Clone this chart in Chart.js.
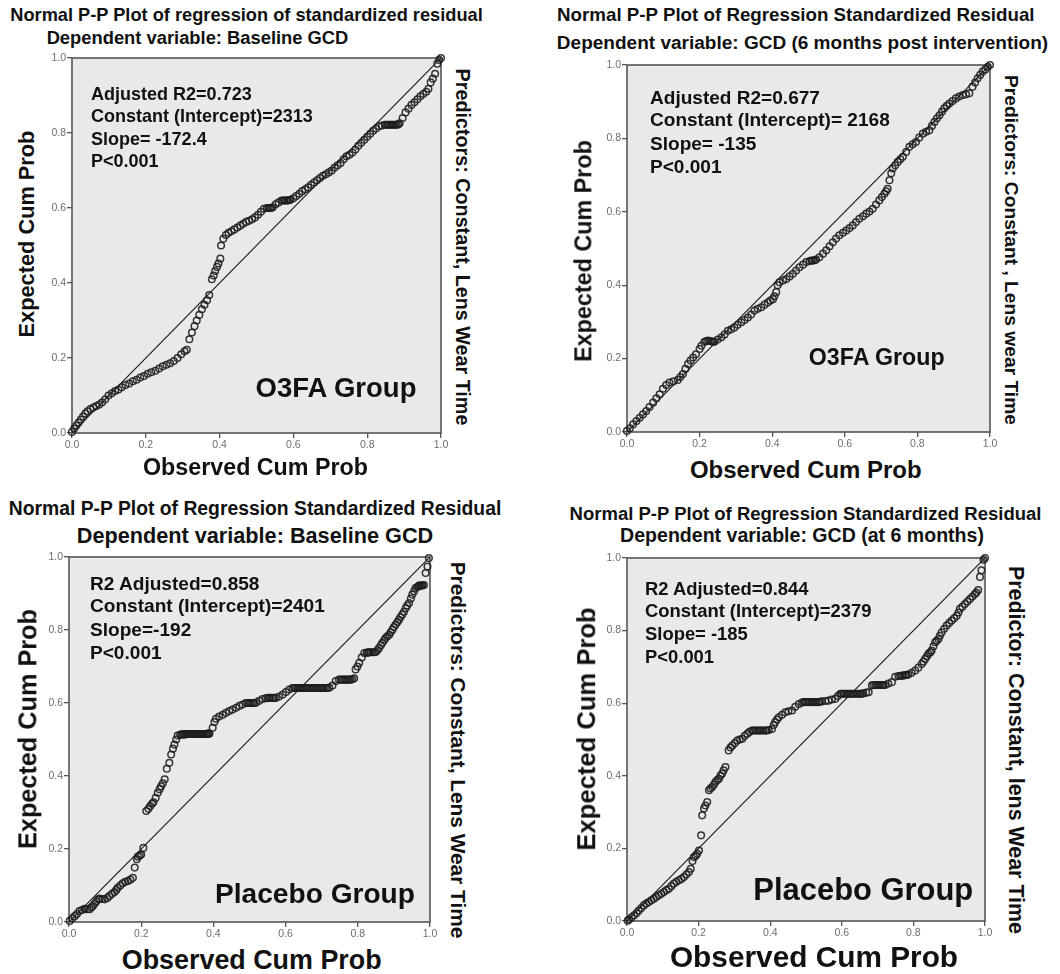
<!DOCTYPE html>
<html>
<head>
<meta charset="utf-8">
<script src="https://cdn.jsdelivr.net/npm/chart.js@4.4.1/dist/chart.umd.min.js"></script>
<style>
  html, body { margin: 0; padding: 0; background: #fff; }
  #stage { position: relative; width: 1060px; height: 974px; overflow: hidden; font-family: "Liberation Sans", Arial, sans-serif; }
  #stage canvas { position: absolute; }
  .lbl { position: absolute; white-space: nowrap; font-weight: bold; color: #111; line-height: 1; }
</style>
</head>
<body>
<div id="stage"></div>
<script>
// tick marks shared by every axis
const tickValues = [0, 0.2, 0.4, 0.6, 0.8, 1.0];
const tickLabels = ["0.0", "0.2", "0.4", "0.6", "0.8", "1.0"];

// reference line
const diagonal = [[0, 0], [1, 1]];

// [observed cum prob, expected cum prob]
const o3faBaseline = [
  [0,.003],[.006,.012],[.012,.02],[.018,.028],[.024,.036],[.03,.044],[.036,.052],[.042,.058],[.05,.064],[.058,.068],
  [.066,.072],[.074,.076],[.082,.082],[.09,.09],[.099,.1],[.108,.106],[.117,.112],[.126,.116],[.135,.122],[.145,.128],
  [.155,.132],[.165,.138],[.175,.142],[.185,.148],[.195,.152],[.205,.158],[.215,.162],[.226,.166],[.236,.172],[.246,.178],
  [.256,.182],[.266,.186],[.276,.192],[.286,.2],[.296,.21],[.305,.218],[.311,.222],[.318,.25],[.325,.268],[.332,.285],
  [.338,.3],[.345,.315],[.352,.33],[.359,.342],[.366,.354],[.372,.368],[.379,.41],[.384,.42],[.388,.432],[.393,.443],
  [.397,.452],[.402,.465],[.404,.5],[.41,.518],[.417,.528],[.424,.534],[.432,.538],[.44,.543],[.448,.548],[.456,.553],
  [.464,.558],[.472,.563],[.48,.566],[.488,.57],[.496,.575],[.504,.582],[.512,.59],[.52,.598],[.528,.6],[.532,.6],
  [.536,.6],[.54,.6],[.544,.602],[.552,.61],[.56,.615],[.568,.62],[.572,.62],[.576,.62],[.58,.62],[.584,.62],
  [.588,.621],[.592,.622],[.6,.626],[.608,.632],[.616,.638],[.624,.645],[.632,.65],[.64,.655],[.648,.662],[.656,.668],
  [.664,.674],[.672,.68],[.68,.686],[.688,.69],[.696,.695],[.704,.7],[.712,.708],[.72,.714],[.728,.72],[.736,.73],
  [.744,.738],[.752,.742],[.76,.748],[.768,.756],[.776,.766],[.784,.774],[.792,.782],[.8,.79],[.808,.798],[.816,.806],
  [.824,.812],[.832,.818],[.84,.82],[.848,.822],[.852,.822],[.856,.822],[.86,.822],[.864,.822],[.868,.822],[.872,.822],
  [.876,.822],[.88,.822],[.884,.823],[.888,.826],[.896,.84],[.904,.855],[.912,.865],[.92,.875],[.928,.882],[.936,.89],
  [.944,.898],[.952,.904],[.96,.91],[.966,.918],[.972,.935],[.978,.945],[.984,.958],[.99,.985],[.995,.995],[1,1]
];

const o3faSixMonths = [
  [0,.003],[.008,.01],[.017,.021],[.026,.03],[.035,.039],[.044,.048],[.053,.057],[.062,.068],[.072,.08],[.081,.092],
  [.09,.103],[.099,.118],[.108,.128],[.117,.135],[.128,.138],[.14,.142],[.147,.15],[.154,.158],[.161,.172],[.168,.185],
  [.175,.195],[.182,.203],[.19,.212],[.2,.226],[.205,.235],[.213,.245],[.218,.248],[.223,.249],[.228,.248],[.232,.247],
  [.237,.246],[.241,.246],[.25,.252],[.26,.258],[.269,.266],[.278,.276],[.287,.28],[.296,.285],[.305,.292],[.315,.299],
  [.324,.305],[.333,.312],[.342,.32],[.351,.331],[.36,.336],[.37,.34],[.379,.347],[.388,.353],[.395,.358],[.402,.362],
  [.406,.37],[.411,.381],[.415,.4],[.42,.408],[.43,.413],[.439,.417],[.448,.424],[.457,.431],[.466,.44],[.475,.449],
  [.485,.456],[.494,.463],[.503,.466],[.508,.467],[.512,.467],[.517,.468],[.521,.47],[.53,.476],[.54,.486],[.549,.495],
  [.558,.506],[.567,.517],[.576,.527],[.585,.536],[.595,.543],[.604,.549],[.613,.556],[.622,.563],[.631,.572],[.64,.581],
  [.65,.588],[.659,.595],[.668,.601],[.677,.608],[.686,.62],[.695,.631],[.702,.64],[.709,.649],[.714,.656],[.718,.663],
  [.723,.686],[.728,.705],[.732,.718],[.739,.727],[.746,.736],[.753,.743],[.76,.75],[.769,.763],[.778,.777],[.787,.784],
  [.796,.79],[.805,.802],[.815,.813],[.824,.818],[.833,.822],[.84,.834],[.847,.845],[.854,.855],[.861,.863],[.868,.873],
  [.874,.882],[.881,.889],[.888,.895],[.897,.902],[.906,.909],[.915,.914],[.925,.918],[.934,.92],[.943,.923],[.952,.941],
  [.959,.952],[.966,.964],[.973,.973],[.98,.982],[.987,.988],[.994,.995],[1,1]
];

const placeboBaseline = [
  [.002,.003],[.009,.01],[.016,.016],[.022,.022],[.029,.03],[.036,.033],[.043,.036],[.05,.035],[.057,.035],[.062,.04],
  [.066,.044],[.071,.05],[.076,.057],[.081,.062],[.085,.064],[.092,.063],[.099,.062],[.106,.066],[.112,.071],[.119,.077],
  [.126,.082],[.131,.088],[.135,.094],[.142,.1],[.149,.106],[.156,.11],[.163,.112],[.17,.116],[.177,.121],[.182,.149],
  [.188,.172],[.191,.179],[.196,.182],[.2,.185],[.206,.203],[.214,.304],[.22,.31],[.225,.318],[.23,.324],[.234,.328],
  [.24,.34],[.246,.354],[.251,.364],[.255,.372],[.26,.38],[.265,.391],[.271,.42],[.278,.436],[.283,.459],[.288,.475],
  [.292,.486],[.297,.5],[.301,.511],[.308,.513],[.311,.514],[.315,.514],[.318,.514],[.322,.514],[.325,.515],[.329,.515],
  [.332,.515],[.336,.515],[.339,.515],[.343,.515],[.346,.515],[.35,.515],[.353,.515],[.357,.515],[.36,.515],[.364,.515],
  [.367,.515],[.371,.515],[.374,.515],[.378,.515],[.381,.515],[.384,.516],[.386,.516],[.389,.516],[.398,.532],[.403,.548],
  [.407,.557],[.416,.563],[.426,.568],[.435,.573],[.444,.578],[.453,.582],[.463,.587],[.472,.592],[.481,.596],[.49,.6],
  [.495,.6],[.5,.6],[.504,.6],[.509,.6],[.513,.6],[.518,.601],[.527,.606],[.536,.611],[.545,.613],[.55,.614],
  [.555,.614],[.559,.614],[.564,.614],[.568,.614],[.573,.614],[.582,.618],[.592,.623],[.601,.63],[.61,.637],[.619,.641],
  [.624,.641],[.629,.641],[.633,.641],[.638,.641],[.642,.641],[.647,.641],[.651,.641],[.656,.641],[.66,.641],[.665,.641],
  [.67,.641],[.675,.641],[.679,.641],[.684,.641],[.688,.641],[.693,.641],[.697,.641],[.702,.641],[.706,.641],[.711,.641],
  [.716,.641],[.721,.642],[.73,.648],[.739,.66],[.748,.664],[.753,.664],[.758,.664],[.762,.664],[.767,.664],[.771,.664],
  [.776,.664],[.78,.664],[.785,.665],[.79,.668],[.794,.692],[.799,.7],[.804,.71],[.811,.725],[.818,.737],[.825,.738],
  [.828,.738],[.831,.739],[.835,.739],[.84,.739],[.845,.739],[.85,.74],[.855,.745],[.859,.751],[.864,.758],[.868,.765],
  [.873,.772],[.877,.778],[.882,.783],[.887,.787],[.891,.794],[.896,.801],[.9,.808],[.905,.815],[.91,.822],[.914,.828],
  [.918,.835],[.923,.842],[.928,.85],[.933,.86],[.937,.867],[.942,.874],[.947,.886],[.951,.897],[.956,.906],[.96,.915],
  [.965,.918],[.968,.92],[.97,.922],[.973,.922],[.976,.922],[.979,.922],[.983,.923],[.988,.956],[.993,.974],[.997,.997]
];

const placeboSixMonths = [
  [.002,.001],[.006,.004],[.013,.01],[.02,.016],[.027,.022],[.033,.029],[.04,.036],[.047,.043],[.054,.048],[.061,.052],
  [.068,.057],[.075,.061],[.082,.066],[.089,.071],[.096,.075],[.103,.08],[.11,.085],[.117,.089],[.124,.096],[.131,.103],
  [.138,.108],[.145,.112],[.152,.116],[.159,.121],[.166,.128],[.173,.135],[.178,.144],[.183,.165],[.187,.176],[.192,.18],
  [.196,.185],[.201,.194],[.207,.236],[.21,.291],[.215,.31],[.219,.318],[.224,.328],[.229,.36],[.233,.365],[.238,.369],
  [.243,.376],[.247,.383],[.252,.388],[.257,.392],[.261,.4],[.266,.406],[.27,.415],[.275,.424],[.284,.47],[.289,.478],
  [.294,.483],[.301,.49],[.308,.497],[.315,.5],[.322,.502],[.329,.51],[.336,.516],[.342,.521],[.349,.525],[.353,.525],
  [.358,.525],[.363,.525],[.368,.525],[.372,.525],[.377,.525],[.382,.525],[.387,.525],[.391,.525],[.396,.526],[.405,.529],
  [.41,.54],[.414,.548],[.419,.555],[.424,.561],[.433,.568],[.442,.575],[.451,.578],[.461,.58],[.47,.59],[.48,.598],
  [.489,.602],[.493,.603],[.498,.603],[.502,.603],[.507,.603],[.511,.603],[.516,.603],[.521,.603],[.526,.603],[.53,.603],
  [.535,.603],[.539,.604],[.544,.605],[.554,.606],[.563,.607],[.572,.61],[.582,.612],[.589,.62],[.596,.626],[.6,.626],
  [.605,.626],[.609,.626],[.614,.626],[.618,.626],[.623,.626],[.627,.626],[.632,.626],[.637,.626],[.642,.626],[.646,.626],
  [.651,.626],[.655,.626],[.66,.627],[.668,.629],[.675,.63],[.684,.649],[.689,.65],[.694,.65],[.698,.65],[.703,.65],
  [.707,.65],[.712,.65],[.716,.65],[.721,.65],[.73,.654],[.74,.658],[.749,.673],[.758,.675],[.763,.675],[.768,.676],
  [.772,.676],[.777,.677],[.781,.678],[.786,.679],[.795,.684],[.805,.69],[.814,.698],[.823,.708],[.828,.715],[.833,.722],
  [.838,.729],[.842,.736],[.847,.74],[.851,.745],[.856,.757],[.861,.768],[.865,.772],[.87,.777],[.874,.786],[.879,.795],
  [.886,.805],[.893,.814],[.9,.821],[.907,.828],[.914,.834],[.921,.841],[.926,.85],[.93,.86],[.937,.866],[.944,.873],
  [.951,.88],[.958,.887],[.965,.894],[.972,.901],[.976,.905],[.981,.912],[.986,.948],[.99,.966],[.996,.995],[1,1]
];

const xTitle = "Observed Cum Prob";
const yTitle = "Expected Cum Prob";

// panel text + where it sits on the page
const panels = [
  {
    data: o3faBaseline, box: { l: 72, t: 58, r: 441, b: 433 },
    titles: ["Normal P-P Plot of regression of standardized residual", "Dependent variable: Baseline GCD"],
    stats: ["Adjusted R2=0.723", "Constant (Intercept)=2313", "Slope= -172.4", "P<0.001"],
    group: "O3FA Group", predictor: "Predictors: Constant, Lens Wear Time",
    pos: {
      t1: [246.5, 15, 473], t2: [197.5, 38, 302],
      stats: { x: 91, ys: [93.7, 116, 138.7, 161], w: 222 },
      group: [336, 388, 162], xt: [255.5, 468, 225], yt: [27, 233.5, 207], pr: [461.7, 246.7, 357]
    }
  },
  {
    data: o3faSixMonths, box: { l: 627, t: 65, r: 990, b: 432 },
    titles: ["Normal P-P Plot of Regression Standardized Residual", "Dependent variable: GCD (6 months post intervention)"],
    stats: ["Adjusted R2=0.677", "Constant (Intercept)= 2168", "Slope=  -135", "P<0.001"],
    group: "O3FA Group", predictor: "Predictors: Constant , Lens wear Time",
    pos: {
      t1: [795.8, 15, 478], t2: [802.5, 42.7, 491.6],
      stats: { x: 650, ys: [97.5, 120.3, 144, 167], w: 240 },
      group: [876.7, 358.3, 136.7], xt: [805.8, 470, 231.7], yt: [584, 250.8, 221.7], pr: [1010.8, 250, 350]
    }
  },
  {
    data: placeboBaseline, box: { l: 69, t: 557, r: 430, b: 922 },
    titles: ["Normal P-P Plot of Regression Standardized Residual", "Dependent variable: Baseline GCD"],
    stats: ["R2 Adjusted=0.858", "Constant (Intercept)=2401", "Slope=-192", "P<0.001"],
    group: "Placebo Group", predictor: "Predictors: Constant, Lens Wear Time",
    pos: {
      t1: [255, 508.7, 493.4], t2: [255, 536.3, 356.7],
      stats: { x: 90, ys: [583.7, 606, 630.3, 653], w: 235 },
      group: [315, 893.7, 200], xt: [251.7, 960.3, 260], yt: [28.3, 728.7, 240], pr: [458.3, 750.3, 376.7]
    }
  },
  {
    data: placeboSixMonths, box: { l: 627, t: 558, r: 985, b: 921 },
    titles: ["Normal P-P Plot of Regression Standardized Residual", "Dependent variable: GCD (at 6 months)"],
    stats: ["R2 Adjusted=0.844", "Constant (Intercept)=2379", "Slope= -185", "P<0.001"],
    group: "Placebo Group", predictor: "Predictor: Constant, lens Wear Time",
    pos: {
      t1: [805.5, 513.7, 472.4], t2: [802, 536.3, 364],
      stats: { x: 645, ys: [588.7, 611, 633.7, 656.8], w: 226.7 },
      group: [863.3, 890.3, 220], xt: [814, 957, 288.3], yt: [586.7, 728.7, 243.3], pr: [1015, 749.5, 368.3]
    }
  }
];

const stage = document.getElementById("stage");
const FONT = '"Liberation Sans", Arial, sans-serif';
const measure = document.createElement("canvas").getContext("2d");

function fitSize(text, width) {
  measure.font = "bold 100px " + FONT;
  return 100 * width / measure.measureText(text).width;
}

// centred label, optionally rotated
function label(text, cx, cy, width, rot, size) {
  const el = document.createElement("div");
  el.className = "lbl";
  el.textContent = text;
  el.style.fontSize = (size || fitSize(text, width)) + "px";
  el.style.left = cx + "px";
  el.style.top = cy + "px";
  el.style.transform = "translate(-50%,-50%)" + (rot ? " rotate(" + rot + "deg)" : "");
  stage.appendChild(el);
}

function leftLabel(text, x, cy, size) {
  const el = document.createElement("div");
  el.className = "lbl";
  el.textContent = text;
  el.style.fontSize = size + "px";
  el.style.left = x + "px";
  el.style.top = cy + "px";
  el.style.transform = "translateY(-50%)";
  stage.appendChild(el);
}

const framePlugin = {
  id: "frame",
  beforeDraw(chart) {
    const { ctx, chartArea: a } = chart;
    ctx.save();
    ctx.fillStyle = "#e9e9e9";
    ctx.fillRect(a.left, a.top, a.width, a.height);
    ctx.restore();
  },
  beforeDatasetsDraw(chart) {
    const { ctx, chartArea: a } = chart;
    ctx.save();
    ctx.strokeStyle = "#555";
    ctx.lineWidth = 1.6;
    ctx.strokeRect(a.left, a.top, a.width, a.height);
    ctx.restore();
  }
};

function axis(fit) {
  return {
    type: "linear", min: 0, max: 1,
    afterFit: fit,
    afterBuildTicks: s => { s.ticks = tickValues.map(v => ({ value: v })); },
    ticks: {
      callback: (v, i) => tickLabels[i],
      color: "#6e6e6e", font: { family: FONT, size: 10.5 },
      padding: 1, maxRotation: 0, autoSkip: false
    },
    grid: { display: true, drawOnChartArea: false, drawTicks: true, tickLength: 5, color: "#555", lineWidth: 1.3 },
    border: { display: false }
  };
}

function drawPanel(p) {
  const PL = 4, WY = 28, PT = 8, PR = 10, HX = 20, PB = 2;
  const w = p.box.r - p.box.l, h = p.box.b - p.box.t;
  const cv = document.createElement("canvas");
  cv.width = PL + WY + w + PR;
  cv.height = PT + h + HX + PB;
  cv.style.left = (p.box.l - PL - WY) + "px";
  cv.style.top = (p.box.t - PT) + "px";
  stage.appendChild(cv);

  new Chart(cv, {
    type: "scatter",
    data: {
      datasets: [
        {
          data: p.data.map(([x, y]) => ({ x, y })),
          pointRadius: 3.3, pointBorderWidth: 1.5,
          pointBorderColor: "rgba(28,28,28,0.88)", pointBackgroundColor: "rgba(0,0,0,0)",
          clip: 8, order: 1
        },
        {
          data: diagonal.map(([x, y]) => ({ x, y })),
          showLine: true, borderColor: "#1e1e1e", borderWidth: 1.2, pointRadius: 0, order: 2
        }
      ]
    },
    options: {
      responsive: false, animation: false, devicePixelRatio: 1,
      layout: { padding: { left: PL, top: PT, right: PR, bottom: PB } },
      plugins: { legend: { display: false }, tooltip: { enabled: false } },
      scales: {
        x: axis(s => { s.height = HX; }),
        y: axis(s => { s.width = WY; })
      }
    },
    plugins: [framePlugin]
  });

  const q = p.pos;
  label(p.titles[0], q.t1[0], q.t1[1], q.t1[2]);
  label(p.titles[1], q.t2[0], q.t2[1], q.t2[2]);
  const statSize = fitSize(p.stats[1], q.stats.w);
  p.stats.forEach((s, i) => leftLabel(s, q.stats.x, q.stats.ys[i], statSize));
  label(p.group, q.group[0], q.group[1], q.group[2]);
  label(xTitle, q.xt[0], q.xt[1], q.xt[2]);
  label(yTitle, q.yt[0], q.yt[1], q.yt[2], -90);
  label(p.predictor, q.pr[0], q.pr[1], q.pr[2], 90);
}

panels.forEach(drawPanel);
</script>
</body>
</html>
